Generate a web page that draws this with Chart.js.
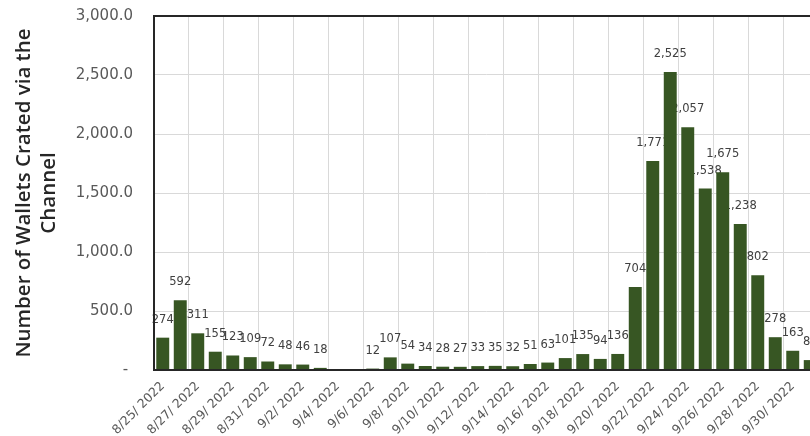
<!DOCTYPE html>
<html>
<head>
<meta charset="utf-8">
<script src="https://cdn.jsdelivr.net/npm/chart.js@4.4.1/dist/chart.umd.min.js"></script>
<style>
  html, body { margin: 0; padding: 0; background: #fff; overflow: hidden; width: 810px; height: 436px; }
  canvas { display: block; }
</style>
</head>
<body>
<canvas id="chart" width="830" height="436"></canvas>
<script>
// daily wallets created via the channel, 8/25/2022 - 10/1/2022 (last bar is cut off in the source)
const dates = [
  '8/25/ 2022', '8/26/ 2022', '8/27/ 2022', '8/28/ 2022', '8/29/ 2022', '8/30/ 2022', '8/31/ 2022',
  '9/1/ 2022', '9/2/ 2022', '9/3/ 2022', '9/4/ 2022', '9/5/ 2022', '9/6/ 2022', '9/7/ 2022',
  '9/8/ 2022', '9/9/ 2022', '9/10/ 2022', '9/11/ 2022', '9/12/ 2022', '9/13/ 2022', '9/14/ 2022',
  '9/15/ 2022', '9/16/ 2022', '9/17/ 2022', '9/18/ 2022', '9/19/ 2022', '9/20/ 2022', '9/21/ 2022',
  '9/22/ 2022', '9/23/ 2022', '9/24/ 2022', '9/25/ 2022', '9/26/ 2022', '9/27/ 2022', '9/28/ 2022',
  '9/29/ 2022', '9/30/ 2022', '10/1/ 2022',
];
const wallets = [
  274, 592, 311, 155, 123, 109, 72, 48, 46, 18, null, null, 12, 107,
  54, 34, 28, 27, 33, 35, 32, 51, 63, 101, 135, 94, 136, 704,
  1771, 2525, 2057, 1538, 1675, 1238, 802, 278, 163, 84,
];
const yTicks = [0, 500, 1000, 1500, 2000, 2500, 3000];

const BAR_GREEN = '#375623';
const GRID = '#d9d9d9';

// value labels go behind the bars, so neighbours hide overlapping digits like in the source
const barLabels = {
  id: 'barLabels',
  beforeDatasetsDraw(chart) {
    const { ctx } = chart;
    const meta = chart.getDatasetMeta(0);
    ctx.save();
    ctx.font = '11.5px "DejaVu Sans"';
    ctx.fillStyle = '#404040';
    ctx.textAlign = 'center';
    ctx.textBaseline = 'middle';
    meta.data.forEach((bar, i) => {
      const v = wallets[i];
      if (v == null) return;
      ctx.fillText(v.toLocaleString('en-US'), bar.x, bar.y - 18);
    });
    ctx.restore();
  },
};

const frame = {
  id: 'frame',
  afterDatasetsDraw(chart) {
    const { ctx, chartArea: a } = chart;
    ctx.save();
    ctx.strokeStyle = '#262626';
    ctx.lineWidth = 2;
    ctx.strokeRect(a.left, a.top, a.right - a.left, a.bottom - a.top);
    ctx.restore();
  },
};

new Chart(document.getElementById('chart'), {
  type: 'bar',
  data: {
    labels: dates,
    datasets: [{
      data: wallets,
      backgroundColor: BAR_GREEN,
      borderWidth: 0,
      barPercentage: 0.74,
      categoryPercentage: 1,
    }],
  },
  options: {
    responsive: false,
    animation: false,
    devicePixelRatio: 1,
    layout: { padding: { top: 16, right: 11, left: 0, bottom: 0 } },
    plugins: { legend: { display: false }, tooltip: { enabled: false } },
    scales: {
      x: {
        grid: {
          offset: true,
          drawTicks: false,
          color: (c) => (c.index % 2 === 0 ? GRID : 'rgba(0,0,0,0)'),
        },
        border: { display: false },
        ticks: {
          autoSkip: false,
          maxRotation: 45,
          minRotation: 45,
          padding: 9,
          color: '#595959',
          font: { family: 'DejaVu Sans', size: 12.5 },
          callback: (v, i) => (i % 2 === 0 ? dates[i] : ''),
        },
        afterFit(s) { s.height = 66; },
      },
      y: {
        min: 0,
        max: 3000,
        afterBuildTicks(s) { s.ticks = yTicks.map((value) => ({ value })); },
        grid: { color: GRID, drawTicks: false },
        border: { display: false },
        ticks: {
          padding: 21,
          color: '#595959',
          font: { family: 'DejaVu Sans', size: 15 },
          callback: (v) => (v === 0 ? '- ' : v.toLocaleString('en-US', { minimumFractionDigits: 1 })),
        },
        title: {
          display: true,
          text: ['Number of Wallets Crated via the', 'Channel'],
          color: '#262626',
          font: { family: 'Open Sans', size: 20.5, weight: '600', lineHeight: 1.2 },
          padding: { top: 12, bottom: 0 },
        },
        afterFit(s) {
          s.width = 154;
          // tick padding would otherwise push the plot top down
          s.paddingTop = 9;
          s.paddingBottom = 0;
        },
      },
    },
  },
  plugins: [barLabels, frame],
});
</script>
</body>
</html>
